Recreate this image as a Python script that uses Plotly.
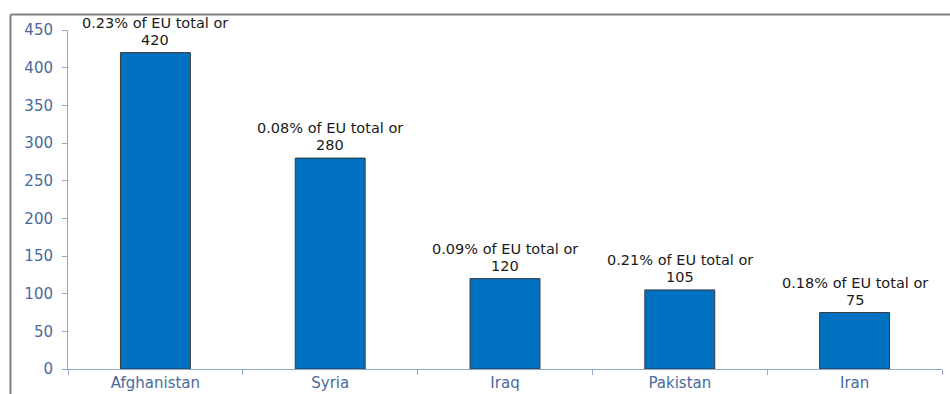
import plotly.graph_objects as go

countries = ["Afghanistan", "Syria", "Iraq", "Pakistan", "Iran"]
values = [420, 280, 120, 105, 75]
shares = ["0.23%", "0.08%", "0.09%", "0.21%", "0.18%"]
y_ticks = [0, 50, 100, 150, 200, 250, 300, 350, 400, 450]

W, H = 950, 394
L, R, T, B = 68, 8, 30, 25
pw, ph = W - L - R, H - T - B

fig = go.Figure()
fig.add_trace(go.Bar(
    x=countries, y=values,
    marker=dict(color="#0070C0", line=dict(color="#3a3a3a", width=1)),
    width=0.4, hoverinfo="skip",
))

lab_font = dict(family="DejaVu Sans", size=14.5, color="#1a1a1a")
for c, v, s in zip(countries, values, shares):
    fig.add_annotation(x=c, y=v, text=str(v), showarrow=False, yanchor="bottom",
                       yshift=4, borderpad=0, font=lab_font)
    fig.add_annotation(x=c, y=v, text=f"{s} of EU total or", showarrow=False,
                       yanchor="bottom", yshift=21, borderpad=0, font=lab_font)

axis_col = "#8FA8CC"
tick_font = dict(family="DejaVu Sans", size=15, color="#4A6A9A")

fig.update_layout(
    width=W, height=H, margin=dict(l=L, r=R, t=T, b=B, autoexpand=False),
    paper_bgcolor="white", plot_bgcolor="white", showlegend=False,
    xaxis=dict(showline=True, linecolor=axis_col, linewidth=1,
               ticks="outside", tickson="boundaries", ticklen=5,
               tickcolor=axis_col, tickfont=tick_font, showgrid=False,
               automargin=False),
    yaxis=dict(range=[0, 450], tickvals=y_ticks, showline=True,
               linecolor=axis_col, linewidth=1, ticks="outside", ticklen=5,
               tickcolor=axis_col, tickfont=tick_font, showgrid=False,
               zeroline=False, automargin=False, ticklabelstandoff=6),
)

# outer frame (top and left edges)
bx = (10.5 - L) / pw
ty = 1 + (T - 14.5) / ph
by = (H - B - H - 2) / ph
fig.add_shape(type="line", xref="paper", yref="paper", x0=bx, x1=(W - L + 2) / pw,
              y0=ty, y1=ty, line=dict(color="#7f7f7f", width=2))
fig.add_shape(type="line", xref="paper", yref="paper", x0=bx, x1=bx,
              y0=ty, y1=by, line=dict(color="#7f7f7f", width=2))

fig.write_html("out.html")
